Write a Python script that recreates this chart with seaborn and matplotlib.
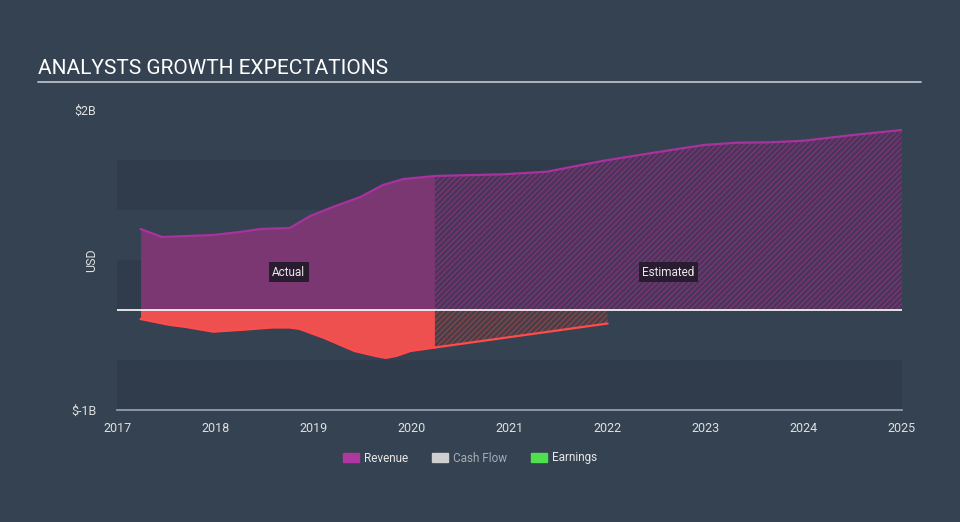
import numpy as np
import pandas as pd
import matplotlib.pyplot as plt
import seaborn as sns
from matplotlib.patches import Patch

sns.set_style('dark')
plt.rcParams['font.family'] = ['Roboto', 'DejaVu Sans']
plt.rcParams['hatch.linewidth'] = 0.6

# revenue (USD bn), actual then estimated
rev_act_x = [2017.24, 2017.46, 2017.98, 2018.25, 2018.46, 2018.76, 2018.97, 2019.2, 2019.48, 2019.71, 2019.92, 2020.24]
rev_act_y = [0.81, 0.73, 0.75, 0.78, 0.81, 0.82, 0.94, 1.03, 1.13, 1.25, 1.31, 1.34]
rev_est_x = [2020.24, 2020.94, 2021.38, 2021.96, 2022.47, 2022.98, 2023.32, 2023.66, 2024.0, 2024.5, 2025.0]
rev_est_y = [1.34, 1.357, 1.383, 1.493, 1.573, 1.65, 1.673, 1.677, 1.693, 1.75, 1.80]

# earnings (USD bn), negative
earn_act_x = [2017.24, 2017.53, 2017.70, 2017.98, 2018.30, 2018.58, 2018.76, 2018.86, 2019.11, 2019.42, 2019.64, 2019.74, 2019.85, 2019.99, 2020.24]
earn_act_y = [-0.09, -0.148, -0.169, -0.217, -0.196, -0.175, -0.175, -0.189, -0.279, -0.41, -0.461, -0.479, -0.458, -0.41, -0.375]
earn_est_x = [2020.24, 2022.0]
earn_est_y = [-0.375, -0.135]

years = list(range(2017, 2026))

bg = '#344251'
band = '#303c4b'
rev_line = '#a8329e'
rev_fill = '#7a3772'
earn_col = '#ee5050'

fig = plt.figure(figsize=(9.6, 5.22), dpi=100, facecolor=bg)
ax = fig.add_axes([117/960, 1 - 410/522, 785/960, 300/522])
ax.set_facecolor(bg)

for lo in [1.0, 0.0, -1.0]:
    ax.axhspan(lo, lo + 0.5, color=band, lw=0, zorder=0)

# actual areas
ax.fill_between(rev_act_x, 0, rev_act_y, color=rev_fill, lw=0, zorder=2)
sns.lineplot(x=rev_act_x, y=rev_act_y, ax=ax, color=rev_line, lw=1.6, zorder=3)
ax.fill_between(earn_act_x, 0, earn_act_y, color=earn_col, lw=0, zorder=2)
sns.lineplot(x=earn_act_x, y=earn_act_y, ax=ax, color='#ff4b4b', lw=1.6, zorder=3)

# estimated areas, hatched
ax.fill_between(rev_est_x, 0, rev_est_y, facecolor='#4c3559', edgecolor='#8e3586',
                hatch='//////', lw=0, zorder=2)
sns.lineplot(x=rev_est_x, y=rev_est_y, ax=ax, color=rev_line, lw=1.6, zorder=3)
ax.fill_between(earn_est_x, 0, earn_est_y, facecolor='#4a3e48', edgecolor='#a04a4a',
                hatch='//////', lw=0, zorder=2)
sns.lineplot(x=earn_est_x, y=earn_est_y, ax=ax, color='#ff4b4b', lw=1.6, zorder=3)

ax.axhline(0, color='white', lw=1.2, zorder=4)

box = dict(boxstyle='square,pad=0.3', fc='#2a1c30', ec='none')
ax.text(2018.75, 0.38, 'Actual', color='#e8e8e8', fontsize=8.5, ha='center', va='center', bbox=box, zorder=5)
ax.text(2022.62, 0.38, 'Estimated', color='#e8e8e8', fontsize=8.5, ha='center', va='center', bbox=box, zorder=5)

ax.set_xlim(2017, 2025)
ax.set_ylim(-1, 2)
ax.set_xticks(years)
ax.set_xticklabels([str(y) for y in years], color='#e0e0e0', fontsize=9)
ax.set_yticks([-1, 2])
ax.set_yticklabels(['$-1B', '$2B'], color='#e0e0e0', fontsize=9)
ax.tick_params(axis='x', length=7, color='#9aa5b5', width=1, pad=2)
ax.tick_params(axis='y', length=0, pad=15)
ax.set_ylabel('USD', color='#e0e0e0', fontsize=9)
ax.yaxis.set_label_coords(-19/785, 0.5)
ax.grid(False)
for s in ['top', 'right', 'left']:
    ax.spines[s].set_visible(False)
ax.spines['bottom'].set_color('#9aa5b5')
ax.spines['bottom'].set_linewidth(1.2)

fig.text(38/960, 1 - 69/522, 'ANALYSTS GROWTH EXPECTATIONS', color='white', fontsize=15, va='center', ha='left')
fig.add_artist(plt.Line2D([38/960, 921/960], [1 - 82/522, 1 - 82/522], color='#b8bcc4', lw=1.3))

handles = [Patch(color='#b0379f'), Patch(color='#cfcfcf'), Patch(color='#4ee04e')]
leg = fig.legend(handles, ['Revenue', 'Cash Flow', 'Earnings'], loc='center', bbox_to_anchor=(0.49, 1 - 458/522),
                 ncol=3, frameon=False, fontsize=8.5, handlelength=1.3, handleheight=0.9, columnspacing=2.0,
                 handletextpad=0.5)
for t, c in zip(leg.get_texts(), ['#e8e8e8', '#a8adb5', '#e8e8e8']):
    t.set_color(c)

fig.savefig('out.png', dpi=100, facecolor=bg)
